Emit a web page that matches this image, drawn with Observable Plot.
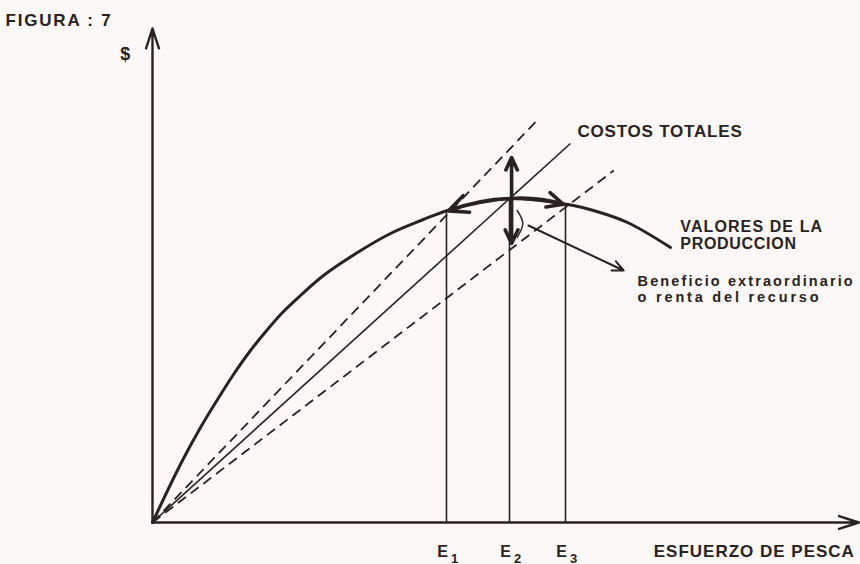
<!DOCTYPE html>
<html><head><meta charset="utf-8">
<script src="https://cdn.jsdelivr.net/npm/d3@7"></script>
<script src="https://cdn.jsdelivr.net/npm/@observablehq/plot@0.6"></script>
<style>
html,body{margin:0;padding:0;background:#fbf8f7;}
svg text{font-family:"Liberation Sans",Arial,sans-serif;}
</style></head><body><div id="chart"></div>
<script>
const ink = "#2a2220";

// Valores de la producción (esfuerzo, $)
const curveEffort = [0, 2.57, 4.43, 6.86, 9.29, 11.57, 14, 16.43, 18.71, 21.14, 24.43, 29.29, 34, 38.71, 42.14, 46.86, 51.14, 55.43, 60.14, 63, 67.86, 74];
const curveValue  = [0, 7.6, 12.8, 19, 24.6, 29.6, 34.4, 38.6, 42.2, 45.4, 49.4, 54, 57.8, 60.6, 62.4, 64, 64.8, 64.4, 63.4, 62.4, 60, 55];

// Niveles de esfuerzo
const effortLetters = ["E", "E", "E"];
const effortSubs = ["1", "2", "3"];
const effortValues = [42, 51, 59];

// Rectas de costos totales (desde el origen hasta su extremo)
const costEndEffort = [55, 59.7, 65.9];
const costEndValue  = [80.5, 75.8, 70.4];
const costDashed    = [true, false, true];

// Renta: flecha vertical (extremos), llave y flecha al texto
const rentEffort = 51.3;
const rentTop = 73;
const rentBottom = 55.8;
const pointerFrom = [53.7, 59.4];
const pointerTo = [67.3, 50.4];
const braceEffort = [52.1, 52.9, 52.1];
const braceValue  = [62.4, 59.8, 57];

// Textos
const labelTexts = ["FIGURA : 7", "$", "COSTOS TOTALES", "VALORES DE LA", "PRODUCCION", "Beneficio extraordinario", "o renta del recurso", "ESFUERZO DE PESCA"];
const labelX = [-21, -4.6, 60.7, 75.4, 75.4, 69.3, 69.3, 71.6];
const labelY = [99.4, 92.6, 77.2, 58.2, 54.8, 47.4, 44.2, -6.8];
const labelSize = [17, 18, 17, 16, 16, 14.5, 14.5, 17];
const labelSpacing = [1.8, 0, 0.8, 1.1, 0.7, 2.1, 2.8, 1.0];

const curve = curveEffort.map((x, i) => ({x, y: curveValue[i]}));
const valueAt = e => {
  const i = d3.bisector(d => d.x).right(curve, e);
  const a = curve[Math.max(0, i - 1)], b = curve[Math.min(curve.length - 1, i)];
  return a.x === b.x ? a.y : a.y + (b.y - a.y) * (e - a.x) / (b.x - a.x);
};
const efforts = effortValues.map((e, i) => ({e, top: valueAt(e), letter: effortLetters[i], sub: effortSubs[i]}));
const costs = costEndEffort.map((x, i) => ({x1: 0, y1: 0, x2: x, y2: costEndValue[i], dashed: costDashed[i]}));
const labels = labelTexts.map((t, i) => ({t, x: labelX[i], y: labelY[i], size: labelSize[i], sp: labelSpacing[i], i}));
const peak = curve.reduce((a, b) => b.y > a.y ? b : a);

const marks = [
  // axes
  Plot.arrow([{x1: 0, y1: 0, x2: 0, y2: 98.8}, {x1: 0, y1: 0, x2: 100.9, y2: 0}],
    {x1: "x1", y1: "y1", x2: "x2", y2: "y2", stroke: ink, strokeWidth: 2.4, headLength: 13, headAngle: 36}),
  // cost rays
  Plot.link(costs.filter(d => !d.dashed), {x1: "x1", y1: "y1", x2: "x2", y2: "y2", stroke: ink, strokeWidth: 1.6}),
  Plot.link(costs.filter(d => d.dashed), {x1: "x1", y1: "y1", x2: "x2", y2: "y2", stroke: ink, strokeWidth: 1.8, strokeDasharray: "10,6"}),
  // effort verticals
  Plot.ruleX(efforts, {x: "e", y1: 0, y2: "top", stroke: ink, strokeWidth: 1.6}),
  // production value curve
  Plot.line(curve, {x: "x", y: "y", curve: "catmull-rom", stroke: ink, strokeWidth: 3}),
  // horizontal double arrow along the curve
  Plot.arrow([{x1: peak.x, y1: peak.y, x2: effortValues[0] + 0.3, y2: valueAt(effortValues[0])}],
    {x1: "x1", y1: "y1", x2: "x2", y2: "y2", bend: -10, stroke: ink, strokeWidth: 3.6, headLength: 11, headAngle: 50}),
  Plot.arrow([{x1: peak.x, y1: peak.y, x2: effortValues[2] - 0.3, y2: valueAt(effortValues[2])}],
    {x1: "x1", y1: "y1", x2: "x2", y2: "y2", bend: 10, stroke: ink, strokeWidth: 3.6, headLength: 11, headAngle: 50}),
  // vertical double arrow
  Plot.arrow([{x1: rentEffort, y1: peak.y, x2: rentEffort, y2: rentTop}, {x1: rentEffort, y1: peak.y, x2: rentEffort, y2: rentBottom}],
    {x1: "x1", y1: "y1", x2: "x2", y2: "y2", stroke: ink, strokeWidth: 3.6, headLength: 11, headAngle: 50}),
  // brace
  Plot.line(braceEffort.map((x, i) => ({x, y: braceValue[i]})), {x: "x", y: "y", curve: "natural", stroke: ink, strokeWidth: 1.4}),
  // pointer
  Plot.arrow([{x1: pointerFrom[0], y1: pointerFrom[1], x2: pointerTo[0], y2: pointerTo[1]}],
    {x1: "x1", y1: "y1", x2: "x2", y2: "y2", stroke: ink, strokeWidth: 2, headLength: 9, headAngle: 50}),
  // effort labels
  Plot.text(efforts, {x: "e", y: -6.8, text: "letter", dx: -4, textAnchor: "middle", lineAnchor: "bottom", fontSize: 16, fontWeight: "bold", fill: ink}),
  Plot.text(efforts, {x: "e", y: -6.8, text: "sub", dx: 8, dy: 6, textAnchor: "middle", lineAnchor: "bottom", fontSize: 13, fontWeight: "bold", fill: ink}),
  // text labels
  ...labels.map(d => Plot.text([d], {x: "x", y: "y", text: "t", textAnchor: "start", lineAnchor: "bottom",
    fontSize: d.size, fontWeight: "bold", fill: ink, ariaLabel: () => "label" + d.i}))
];

const chart = Plot.plot({
  width: 860, height: 564,
  marginLeft: 152, marginRight: 8, marginTop: 22, marginBottom: 42,
  x: {domain: [0, 100], axis: null},
  y: {domain: [0, 100], axis: null},
  style: {background: "#fbf8f7", color: ink, overflow: "visible"},
  marks
});
labels.forEach(d => {
  d3.select(chart).selectAll(`[aria-label="label${d.i}"]`).style("letter-spacing", d.sp + "px");
});
document.getElementById("chart").appendChild(chart);
</script></body></html>
